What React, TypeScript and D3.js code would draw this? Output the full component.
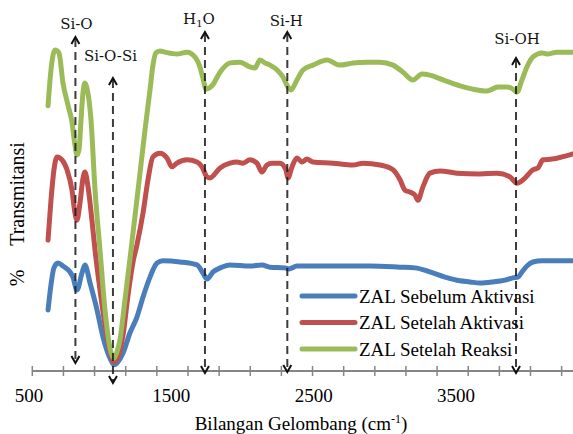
import React from "react";
import * as d3 from "d3";

const W = 573;
const H = 434;

// ---- data: [wavenumber (cm-1), transmittance (% , offset per series)] ----
const sebelumAktivasi: [number, number][] = [
  [601,16.2],[620,23.0],[639,27.6],[665,28.9],[697,28.1],[742,26.5],[761,25.1],[787,21.6],[819,26.2],[838,28.4],
  [871,23.5],[916,16.2],[954,8.9],[999,3.2],[1025,1.4],[1050,2.2],[1083,4.6],[1127,10.0],[1172,14.3],[1211,19.7],
  [1256,25.1],[1301,28.9],[1339,29.5],[1449,29.2],[1558,28.4],[1596,26.2],[1622,24.6],[1661,26.5],[1718,27.8],[1770,28.4],
  [1898,28.1],[1975,28.4],[2027,27.8],[2123,27.6],[2149,27.3],[2200,28.1],[2412,28.1],[2669,28.1],[2862,27.8],[2958,27.6],
  [3054,26.5],[3151,25.1],[3247,24.1],[3311,23.8],[3375,23.5],[3459,23.8],[3536,24.3],[3587,24.9],[3620,25.1],[3645,26.5],
  [3677,28.1],[3716,29.2],[3774,29.5],[3870,29.5],[3973,29.5],
];

const setelahAktivasi: [number, number][] = [
  [601,35.1],[620,45.9],[639,54.1],[659,57.6],[691,56.8],[723,54.1],[755,48.6],[774,42.4],[787,40.5],[806,45.1],
  [826,51.9],[838,53.5],[858,49.5],[883,40.5],[903,32.4],[935,21.6],[967,12.2],[999,4.9],[1025,2.2],[1050,3.5],
  [1083,9.5],[1115,20.3],[1147,29.2],[1172,33.8],[1211,42.4],[1243,51.4],[1275,57.6],[1320,58.6],[1365,57.3],[1397,54.9],
  [1429,55.9],[1494,56.8],[1558,56.2],[1590,54.9],[1622,52.2],[1641,51.9],[1706,54.6],[1770,55.9],[1815,56.2],[1853,55.9],
  [1898,56.8],[1943,55.9],[1975,53.5],[2007,55.4],[2040,55.9],[2091,55.9],[2129,54.1],[2142,51.9],[2168,54.9],[2200,57.3],
  [2232,56.2],[2264,57.0],[2303,56.2],[2431,55.9],[2560,55.4],[2624,55.9],[2733,55.4],[2817,54.1],[2862,51.4],[2894,48.6],
  [2926,48.1],[2958,47.3],[2977,45.9],[3009,49.5],[3054,53.2],[3119,53.8],[3228,53.2],[3375,53.0],[3485,53.2],[3568,52.2],
  [3613,50.5],[3652,51.4],[3716,54.1],[3748,54.6],[3780,56.8],[3838,57.0],[3973,58.4],
];

const setelahReaksi: [number, number][] = [
  [601,71.4],[620,81.1],[646,86.5],[671,85.7],[697,77.6],[729,71.6],[755,67.0],[774,60.8],[787,58.1],[800,59.5],
  [813,67.6],[826,75.1],[838,77.6],[851,76.2],[877,67.6],[903,48.6],[935,32.4],[967,16.2],[999,5.9],[1025,3.2],
  [1044,4.9],[1063,8.1],[1095,18.9],[1134,32.4],[1179,48.6],[1224,64.9],[1256,75.7],[1275,82.4],[1294,85.7],[1320,86.2],
  [1352,85.9],[1429,85.4],[1494,85.9],[1545,84.6],[1577,81.9],[1596,78.9],[1616,75.9],[1654,76.8],[1706,80.5],[1770,83.0],
  [1834,83.2],[1898,81.9],[1930,81.6],[1962,83.8],[1995,83.0],[2027,82.4],[2072,81.1],[2110,79.2],[2142,76.5],[2162,75.7],
  [2200,78.4],[2239,81.1],[2303,82.4],[2393,83.8],[2476,82.4],[2560,83.0],[2650,83.2],[2733,83.2],[2817,82.4],[2881,80.5],
  [2945,78.4],[3003,80.0],[3054,79.7],[3138,78.4],[3247,76.8],[3330,75.9],[3420,75.4],[3491,76.5],[3549,76.5],[3587,75.9],
  [3613,75.1],[3645,78.4],[3677,81.9],[3716,84.6],[3774,85.7],[3806,85.4],[3870,85.9],[3973,85.9],
];

const seriesNames = ["ZAL Sebelum Aktivasi", "ZAL Setelah Aktivasi", "ZAL Setelah Reaksi"];
const seriesData = [sebelumAktivasi, setelahAktivasi, setelahReaksi];
const seriesColors = ["#4a7ebb", "#c0504d", "#9bbb59"];

const xTickLabels = [500, 1500, 2500, 3500];
const minorTicks = d3.range(500, 4000, 200);

// band annotations
const bandNames = ["Si-O", "Si-O-Si", "H1O", "Si-H", "Si-OH"];
const bandWavenumbers = [777, 1018, 1609, 2138, 3607];

// ---- layout ----
const axisY = 371;
const xScale = d3.scaleLinear().domain([500, 3973]).range([32.3, 573]);
// tick labels are printed at their own (offset) places in the original figure
const labelScale = d3.scaleLinear().domain([500, 3500]).range([29, 456]);
const yScale = d3.scaleLinear().domain([0, 100]).range([370, 0]);

const bandTop = [37, 78, 32, 32, 58];
const bandBottom = [363, 383, 373, 372, 373];
const bandLabelY = [29, 61, 24, 26, 44];
const bandLabelDx = [1, -2.5, -6, -1, 1];

const serifStyle = { fontFamily: "Liberation Serif" };
const slabStyle = { fontFamily: "DejaVu Serif" };

export default function App() {
  const line = d3
    .line<[number, number]>()
    .x((d) => xScale(d[0]))
    .y((d) => yScale(d[1]))
    .curve(d3.curveMonotoneX);

  return (
    <svg
      width={W}
      height={H}
      viewBox={`0 0 ${W} ${H}`}
      style={{ position: "absolute", left: 0, top: 0, background: "#fff", display: "block" }}
    >
      <rect x={0} y={0} width={W} height={H} fill="#fff" />

      {/* axis */}
      <line x1={xScale(500)} x2={W} y1={axisY} y2={axisY} stroke="#868686" strokeWidth={2} />
      {minorTicks.map((t) => (
        <line key={t} x1={xScale(t)} x2={xScale(t)} y1={axisY - 5} y2={axisY + 5} stroke="#868686" strokeWidth={1.5} />
      ))}
      {xTickLabels.map((t) => (
        <text key={t} x={labelScale(t)} y={402} textAnchor="middle" style={serifStyle} fontSize={19} fill="#000">
          {t}
        </text>
      ))}
      <text x={301} y={430} textAnchor="middle" style={serifStyle} fontSize={19} fill="#000">
        Bilangan Gelombang (cm
        <tspan fontSize={12} dy={-7}>-1</tspan>
        <tspan dy={7}>)</tspan>
      </text>

      {/* y title */}
      <text transform="translate(24,278) rotate(-90)" textAnchor="middle" style={serifStyle} fontSize={20} fill="#000">
        %
      </text>
      <text transform="translate(24,194) rotate(-90)" textAnchor="middle" style={serifStyle} fontSize={20} fill="#000">
        Transmitansi
      </text>

      {/* spectra */}
      {seriesData.map((d, i) => (
        <path
          key={seriesNames[i]}
          d={line(d) || ""}
          fill="none"
          stroke={seriesColors[i]}
          strokeWidth={5}
          strokeLinejoin="round"
          strokeLinecap="round"
        />
      ))}

      {/* band markers */}
      {bandWavenumbers.map((wn, i) => {
        const x = xScale(wn);
        const t = bandTop[i];
        const b = bandBottom[i];
        return (
          <g key={bandNames[i]}>
            <line x1={x} x2={x} y1={t + 2} y2={b - 2} stroke="#1a1a1a" strokeOpacity={0.85} strokeWidth={2} strokeDasharray="8,5" />
            <path d={`M${x - 4},${t + 7}L${x},${t}L${x + 4},${t + 7}`} fill="none" stroke="#111" strokeWidth={2} />
            <path d={`M${x - 4},${b - 7}L${x},${b}L${x + 4},${b - 7}`} fill="none" stroke="#111" strokeWidth={2} />
            <text x={x + bandLabelDx[i]} y={bandLabelY[i]} textAnchor="middle" style={slabStyle} fontSize={15} fill="#111">
              {bandNames[i] === "H1O" ? (
                <>
                  H<tspan fontSize={10} dy={3}>1</tspan>
                  <tspan dy={-3}>O</tspan>
                </>
              ) : (
                bandNames[i]
              )}
            </text>
          </g>
        );
      })}

      {/* legend */}
      {seriesNames.map((name, i) => {
        const ly = 296 + i * 26.5;
        return (
          <g key={name}>
            <line x1={302} x2={355} y1={ly} y2={ly} stroke={seriesColors[i]} strokeWidth={5} strokeLinecap="round" />
            <text x={359} y={ly + 6.5} style={serifStyle} fontSize={19} fill="#000">
              {name}
            </text>
          </g>
        );
      })}
    </svg>
  );
}
